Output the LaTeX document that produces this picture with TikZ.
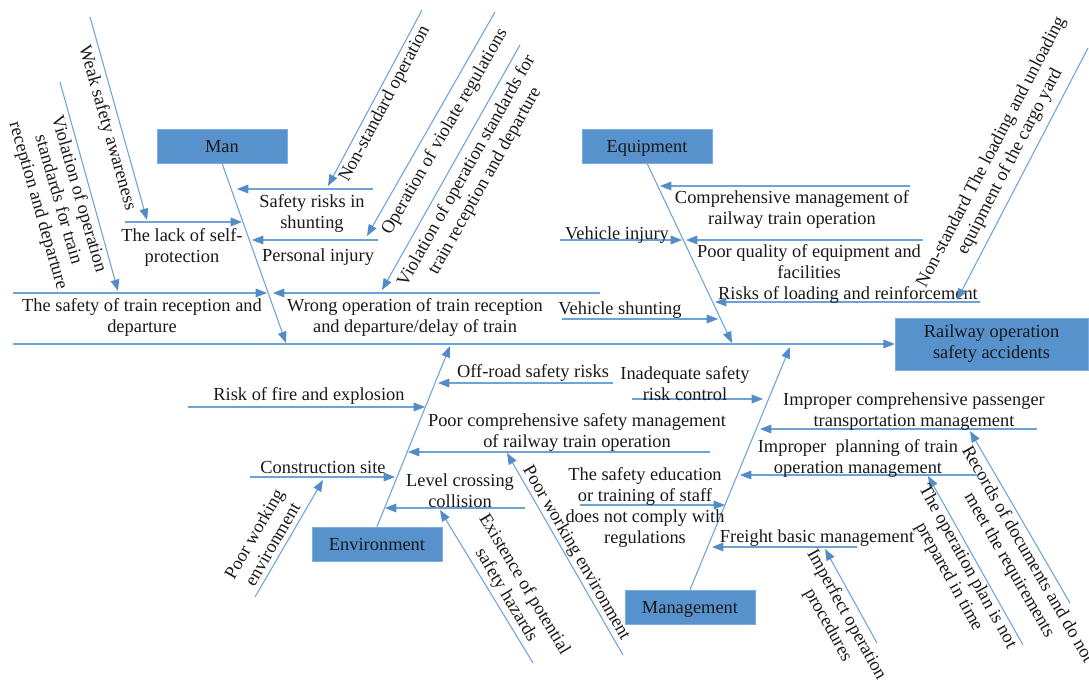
\documentclass[tikz,border=0pt]{standalone}
\usepackage{fontspec}
\setmainfont{Liberation Serif}
\usetikzlibrary{arrows.meta}
\definecolor{lineblue}{RGB}{110,163,216}
\definecolor{tipblue}{RGB}{84,140,200}
\definecolor{boxblue}{RGB}{88,146,205}
\definecolor{boxedge}{RGB}{125,172,222}
\definecolor{txt}{RGB}{25,25,25}
\begin{document}
\begin{tikzpicture}[x=0.75pt,y=-0.75pt,
  font=\fontsize{13.8}{15.8}\selectfont,
  arr/.style={draw=lineblue,line width=0.8pt,-{Triangle[length=8.5pt,width=6.5pt,color=tipblue,fill=tipblue]}},
  cat/.style={fill=boxblue,draw=boxedge,minimum width=97.5pt,minimum height=25.5pt,inner sep=0pt,text=txt,text depth=0pt,text height=10pt},
  headbox/.style={fill=boxblue,draw=boxedge,minimum width=144.75pt,minimum height=39pt,inner sep=0pt,text=txt,align=center},
  lbl/.style={text=txt,align=center,inner sep=0pt},
  hl/.style={lbl,yshift=-2pt}]
\useasboundingbox (0,0) rectangle (1089,680);
% spine and head
\coordinate (sp0) at (13,344);
\node[headbox] (head) at (991.5,344) {Railway operation\\safety accidents};
\draw[arr] (sp0) -- (head.west);
% category boxes
\node[cat] (man) at (222,146) {Man};
\node[cat] (equip) at (647,146) {Equipment};
\node[cat] (env) at (377,544) {Environment};
\node[cat] (mgmt) at (690,607) {Management};
\coordinate (manT) at (286,343);
\coordinate (eqT) at (732,343);
\coordinate (envT) at (450,346);
\coordinate (mgT) at (790,347);
\draw[arr] (man.south) -- (manT);
\draw[arr] (equip.south) -- (eqT);
\draw[arr] (env.north) -- (envT);
\draw[arr] (mgmt.north) -- (mgT);

% ---------------- Man ----------------
\coordinate (m1s) at (373,189); \coordinate (m1t) at (237,189);
\draw[arr] (m1s) -- (m1t);
\node[hl] (m1) at (312,211) {Safety risks in\\shunting};
\coordinate (m1as) at (422,10); \coordinate (m1at) at (328,186);
\draw[arr] (m1as) -- (m1at);
\node[lbl,rotate=62] (m1a) at (385,104) {Non-standard operation};

\coordinate (m2s) at (378,240); \coordinate (m2t) at (252,240);
\draw[arr] (m2s) -- (m2t);
\node[hl] (m2) at (318,254) {Personal injury};
\coordinate (m2as) at (495,12); \coordinate (m2at) at (367,236);
\draw[arr] (m2as) -- (m2at);
\node[lbl,rotate=60] (m2a) at (445,132) {Operation of violate regulations};

\coordinate (m3s) at (125,222); \coordinate (m3t) at (242,222);
\draw[arr] (m3s) -- (m3t);
\node[hl] (m3) at (182,245) {The lack of self-\\protection};
\coordinate (m3as) at (90,17); \coordinate (m3at) at (147,220);
\draw[arr] (m3as) -- (m3at);
\node[lbl,rotate=-74] (m3a) at (107,128) {Weak safety awareness};

\coordinate (m4s) at (13,293); \coordinate (m4t) at (267,293);
\draw[arr] (m4s) -- (m4t);
\node[hl] (m4) at (142,315) {The safety of train reception and\\departure};
\coordinate (m4as) at (60,82); \coordinate (m4at) at (118,291);
\draw[arr] (m4as) -- (m4at);
\node[lbl,rotate=-74] (m4a) at (58,200) {Violation of operation\\standards for train\\reception and departure};

\coordinate (m5s) at (600,293); \coordinate (m5t) at (273,293);
\draw[arr] (m5s) -- (m5t);
\node[hl] (m5) at (415,315) {Wrong operation of train reception\\and departure/delay of train};
\coordinate (m5as) at (520,45); \coordinate (m5at) at (382,290);
\draw[arr] (m5as) -- (m5at);
\node[lbl,rotate=60.6] (m5a) at (476,176) {Violation of operation standards for\\train reception and departure};

% ---------------- Equipment ----------------
\coordinate (e1s) at (910,186); \coordinate (e1t) at (660,186);
\draw[arr] (e1s) -- (e1t);
\node[hl] (e1) at (792,207) {Comprehensive management of\\railway train operation};

\coordinate (e2s) at (560,240); \coordinate (e2t) at (682,240);
\draw[arr] (e2s) -- (e2t);
\node[hl] (e2) at (617,232) {Vehicle injury};

\coordinate (e3s) at (923,240); \coordinate (e3t) at (686,240);
\draw[arr] (e3s) -- (e3t);
\node[hl] (e3) at (809,259) {Poor quality of equipment and\\facilities};

\coordinate (e4s) at (980,302); \coordinate (e4t) at (715,302);
\draw[arr] (e4s) -- (e4t);
\node[hl] (e4) at (848,292) {Risks of loading and reinforcement};
\coordinate (e4as) at (1088,48); \coordinate (e4at) at (957,300);
\draw[arr] (e4as) -- (e4at);
\node[lbl,rotate=62.5] (e4a) at (1001,157) {Non-standard The loading and unloading\\equipment of the cargo yard};

\coordinate (e5s) at (562,319); \coordinate (e5t) at (718,319);
\draw[arr] (e5s) -- (e5t);
\node[hl] (e5) at (620,307) {Vehicle shunting};

% ---------------- Environment ----------------
\coordinate (v1s) at (613,383); \coordinate (v1t) at (438,383);
\draw[arr] (v1s) -- (v1t);
\node[hl] (v1) at (533,370) {Off-road safety risks};

\coordinate (v2s) at (188,407); \coordinate (v2t) at (425,407);
\draw[arr] (v2s) -- (v2t);
\node[hl] (v2) at (309,393) {Risk of fire and explosion};

\coordinate (v3s) at (710,452); \coordinate (v3t) at (408,452);
\draw[arr] (v3s) -- (v3t);
\node[hl] (v3) at (577,430) {Poor comprehensive safety management\\of railway train operation};
\coordinate (v3as) at (623,655); \coordinate (v3at) at (507,453);
\draw[arr] (v3as) -- (v3at);
\node[lbl,rotate=-60] (v3a) at (576,553) {Poor working environment};

\coordinate (v4s) at (250,477); \coordinate (v4t) at (395,477);
\draw[arr] (v4s) -- (v4t);
\node[hl] (v4) at (323,465) {Construction site};
\coordinate (v4as) at (255,597); \coordinate (v4at) at (323,480);
\draw[arr] (v4as) -- (v4at);
\node[lbl,rotate=60] (v4a) at (263,539) {Poor working\\environment};

\coordinate (v5s) at (525,508); \coordinate (v5t) at (385,508);
\draw[arr] (v5s) -- (v5t);
\node[hl] (v5) at (460,488) {Level crossing\\collision};
\coordinate (v5as) at (533,663); \coordinate (v5at) at (440,510);
\draw[arr] (v5as) -- (v5at);
\node[lbl,rotate=-59] (v5a) at (515,590) {Existence of potential\\safety hazards};

% ---------------- Management ----------------
\coordinate (g1s) at (632,399); \coordinate (g1t) at (763,399);
\draw[arr] (g1s) -- (g1t);
\node[hl] (g1) at (685,381) {Inadequate safety\\risk control};

\coordinate (g2s) at (1037,429); \coordinate (g2t) at (760,429);
\draw[arr] (g2s) -- (g2t);
\node[hl] (g2) at (914,409) {Improper comprehensive passenger\\transportation management};
\coordinate (g2as) at (1070,603); \coordinate (g2at) at (970,431);
\draw[arr] (g2as) -- (g2at);
\node[lbl,rotate=-60] (g2a) at (1018,560) {Records of documents and do not\\meet the requirements};

\coordinate (g3s) at (977,475); \coordinate (g3t) at (740,475);
\draw[arr] (g3s) -- (g3t);
\node[hl] (g3) at (858,456) {Improper\ \ planning of train\\operation management};
\coordinate (g3as) at (1023,645); \coordinate (g3at) at (928,476);
\draw[arr] (g3as) -- (g3at);
\node[lbl,rotate=-61] (g3a) at (958,572) {The operation plan is not\\prepared in time};

\coordinate (g4s) at (580,505); \coordinate (g4t) at (725,505);
\draw[arr] (g4s) -- (g4t);
\node[hl] (g4) at (645,505) {The safety education\\or training of staff\\does not comply with\\regulations};

\coordinate (g5s) at (857,547); \coordinate (g5t) at (712,547);
\draw[arr] (g5s) -- (g5t);
\node[hl] (g5) at (817,535) {Freight basic management};
\coordinate (g5as) at (877,643); \coordinate (g5at) at (825,549);
\draw[arr] (g5as) -- (g5at);
\node[lbl,rotate=-61] (g5a) at (837,620) {Imperfect operation\\procedures};
\end{tikzpicture}
\end{document}
